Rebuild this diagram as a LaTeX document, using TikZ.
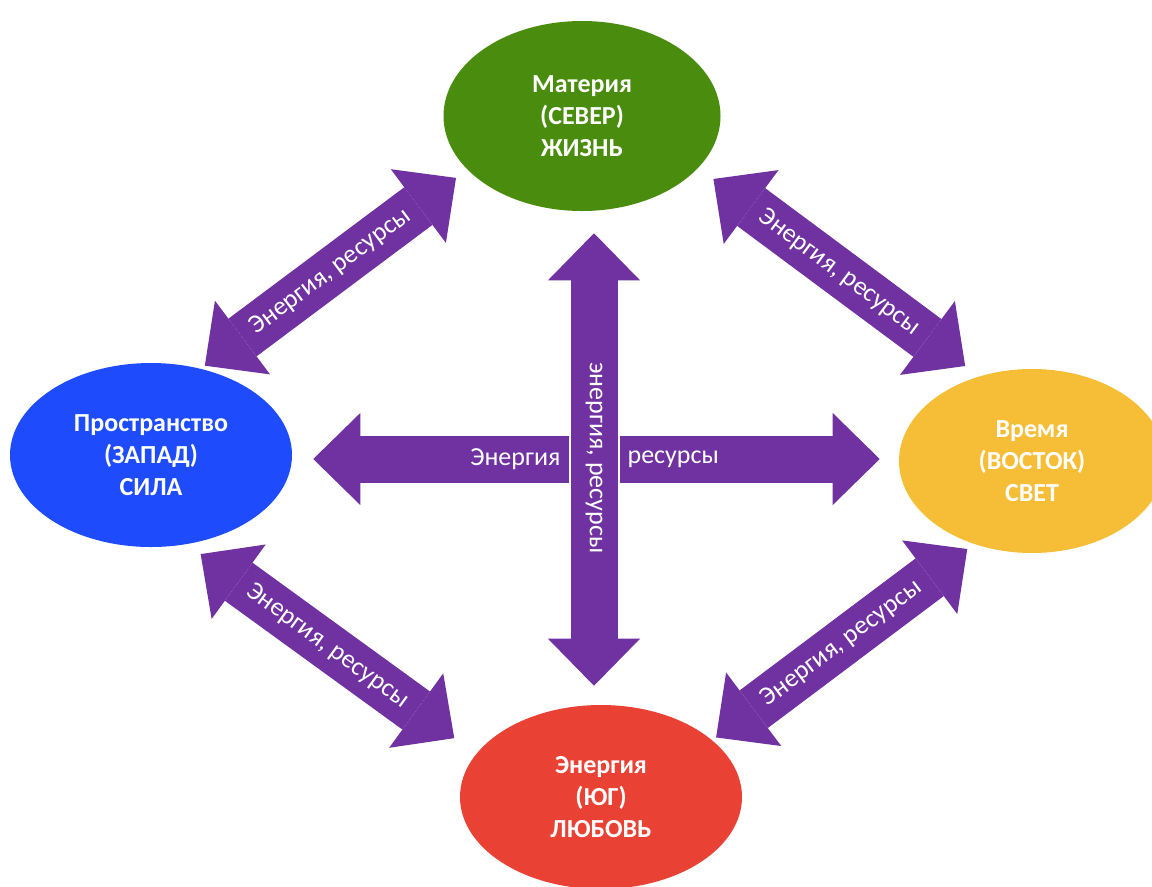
\documentclass[tikz,border=0pt]{standalone}
\usepackage{fontspec}
\setmainfont{Carlito}
\usetikzlibrary{arrows.meta,positioning,shapes.geometric}

\definecolor{northgreen}{RGB}{74,140,14}
\definecolor{westblue}{RGB}{30,76,252}
\definecolor{eastyellow}{RGB}{246,189,54}
\definecolor{southred}{RGB}{233,66,52}
\definecolor{flowpurple}{RGB}{112,50,160}

\tikzset{
  pole/.style={ellipse, fill=#1, text=white, align=center, inner sep=0pt,
    font=\bfseries\fontsize{19.5}{24}\selectfont},
  bigtip/.tip={Triangle[length=35.25pt,width=69pt,line width=0pt]},
  flow/.style={draw=flowpurple, line width=35.25pt, bigtip-bigtip},
  flowtext/.style={text=white, inner sep=0pt, font=\fontsize{19.5}{24}\selectfont},
}

\begin{document}
\begin{tikzpicture}[x=0.75pt,y=-0.75pt]
  \useasboundingbox (0,0) rectangle (1152,886);

  % the four poles
  \node[pole=northgreen, minimum width=207.75pt, minimum height=142.5pt] (north) at (582,116) {Материя\\(СЕВЕР)\\ЖИЗНЬ};
  \node[pole=westblue, minimum width=211.5pt, minimum height=138pt] (west) at (151,455) {Пространство\\(ЗАПАД)\\СИЛА};
  \node[pole=eastyellow, minimum width=199.5pt, minimum height=138pt] (east) at (1032,461) {Время\\(ВОСТОК)\\СВЕТ};
  \node[pole=southred, minimum width=211.5pt, minimum height=138pt] (south) at (601,797) {Энергия\\(ЮГ)\\ЛЮБОВЬ};

  % outer arrows
  \draw[flow, shorten <=3.75pt, shorten >=10.5pt] (west.60) -- node[flowtext, pos=0.487, sloped] (nwtext) {Энергия, ресурсы} (north.205.5);
  \draw[flow, shorten <=14pt, shorten >=13pt] (north.336) -- node[flowtext, pos=0.502, sloped] (netext) {Энергия, ресурсы} (east.122);
  \draw[flow, shorten <=6.2pt, shorten >=3.5pt] (east.235) -- node[flowtext, pos=0.506, sloped] (setext) {Энергия, ресурсы} (south.27);
  \draw[flow, shorten <=12.6pt, shorten >=20.2pt] (west.292.4) -- node[flowtext, pos=0.486, sloped] (swtext) {Энергия, ресурсы} (south.161.9);

  % the cross in the middle
  \coordinate (cross) at (594,459);
  \draw[flow, shorten <=15.75pt, shorten >=14.25pt] (cross -| west.east) -- (cross -| east.west);
  \node[flowtext, left=25pt of cross] (hleft) {Энергия};
  \node[flowtext, right=25pt of cross] (hright) {ресурсы};
  \draw[white, line width=38.25pt, shorten <=40pt, shorten >=40pt] (cross |- north.south) -- (cross |- south.north);
  \draw[flow, shorten <=16.5pt, shorten >=14.25pt] (cross |- north.south) -- node[flowtext, rotate=-90] (vtext) {энергия, ресурсы} (cross |- south.north);
\end{tikzpicture}
\end{document}
